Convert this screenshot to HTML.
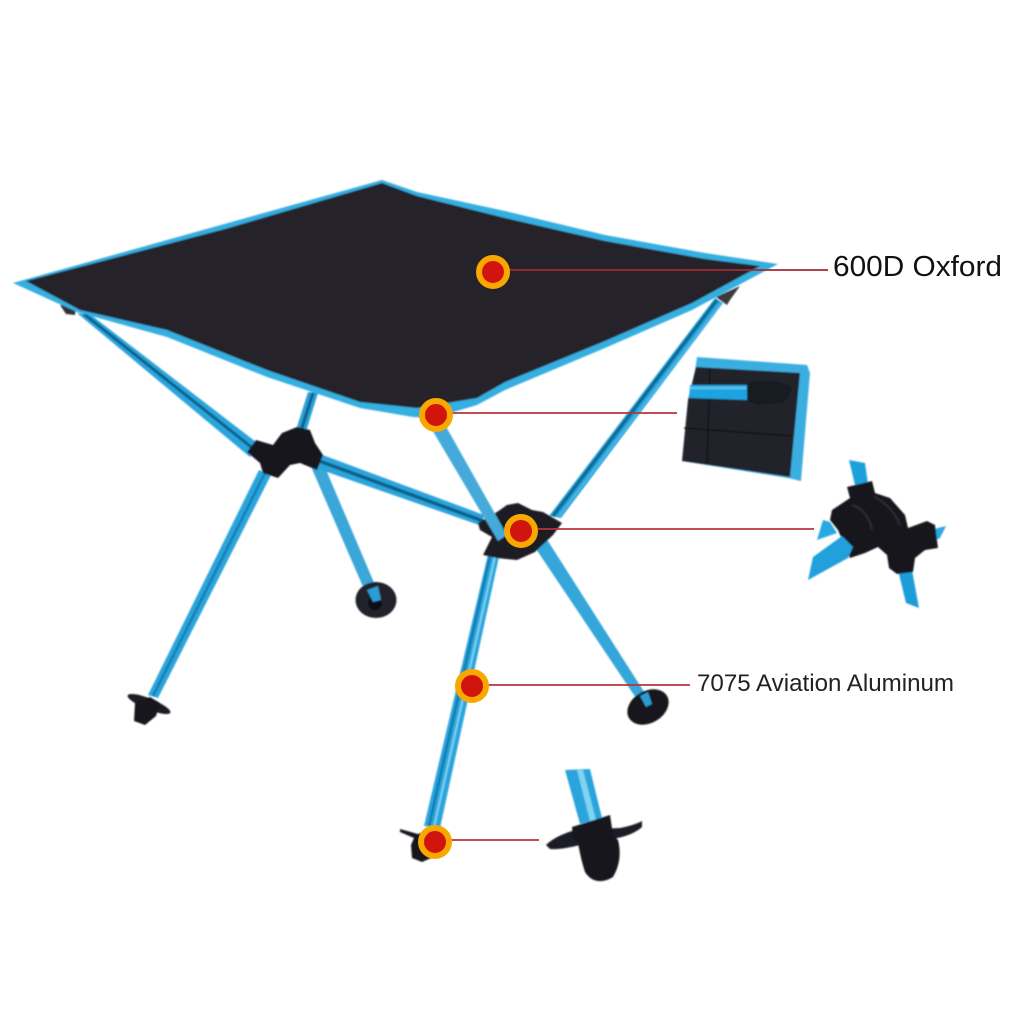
<!DOCTYPE html>
<html><head><meta charset="utf-8"><style>html,body{margin:0;padding:0;background:#fff}svg{display:block}</style></head>
<body>
<svg xmlns="http://www.w3.org/2000/svg" width="1010" height="1010" viewBox="0 0 1010 1010">
<rect width="1010" height="1010" fill="#fff"/>
<defs>
<filter id="b" x="-5%" y="-5%" width="110%" height="110%"><feGaussianBlur stdDeviation="0.7"/></filter>
</defs>
<g filter="url(#b)">
<!-- legs behind the top and hubs -->
<polygon points="77,313 91,315 260,445 250,457" fill="#2ba4dc"/>
<path d="M84 314L255 450" stroke="#0d5f88" stroke-width="3" fill="none"/>
<polygon points="308,392 318,393 305,435 295,433" fill="#2aa0d8"/>
<path d="M313 393L300 434" stroke="#0d5f88" stroke-width="3" fill="none"/>
<polygon points="715,298 723,303 561,518 549,516" fill="#2ba4dc"/>
<path d="M717 300L553 516" stroke="#0f6a96" stroke-width="3.500" fill="none"/>
<path d="M721 303L559 516" stroke="#5cc4ee" stroke-width="1" fill="none"/>
<polygon points="259,470 271,475 158,698 148,695" fill="#2ba4dc"/>
<path d="M265 473L153 696" stroke="#157fb0" stroke-width="2.500" fill="none"/>
<polygon points="309,462 321,458 378,592 367,596" fill="#3aa6d8"/>
<polygon points="312,451 310,466 482,526 484,515" fill="#2ba4dc"/>
<path d="M311 458L483 521" stroke="#0f5f86" stroke-width="3.500" fill="none"/>
<polygon points="530,540 546,538 648,698 640,704" fill="#35a6d9"/>
<polygon points="489,550 500,552 440,828 424,826" fill="#2ba4dc"/>
<path d="M491 552L429 826" stroke="#117cb0" stroke-width="2.500" fill="none"/>
<path d="M496 552L434 827" stroke="#7fd4f2" stroke-width="2" fill="none"/>
<!-- small tips under the top -->
<path d="M60 305L76 306L75 315L66 314Z" fill="#333"/>
<path d="M716 297L740 286L730 300L727 305Z" fill="#3a3a3e"/>
<!-- table top -->
<path d="M13 283L382 180L417 192L505 211L605 235L705 253L778 264L692 310L605 348L505 390L477 405L433 418L413 417L360 408L267 377L167 337L77 312Z" fill="#35aee0"/>
<path d="M26 281L225 229L382 183L417 196L505 218L605 241L705 259L760 266L692 303L605 341L505 382L477 398L417 408L360 402L267 370L167 330L80 310Z" fill="#26242b"/>
<!-- hubs -->
<path d="M247 452L256 440L273 445L282 433L297 427L310 430L315 443L323 455L317 470L300 463L290 465L278 478L263 473L260 463Z" fill="#14161d"/>
<path d="M478 523L497 512L507 505L518 503L532 510L543 512L562 523L553 535L535 552L517 560L497 558L483 555L492 537L480 530Z" fill="#1a1c23"/>
<polygon points="431,428 444,423 507,535 498,541" fill="#45a9da"/>
<!-- feet -->
<ellipse cx="376" cy="600" rx="20.500" ry="18" fill="#20222c"/>
<circle cx="375" cy="603" r="7" fill="#0e1016"/>
<path d="M367 590L378 586L381 600L373 602Z" fill="#2a9dd4"/>
<ellipse cx="648" cy="707" rx="22" ry="16" transform="rotate(-30 648 707)" fill="#12141a"/>
<path d="M640 696L648 692L652 704L646 707Z" fill="#2a9dd4"/>
<ellipse cx="149" cy="704" rx="23" ry="5.500" transform="rotate(22 149 704)" fill="#1b1d24"/>
<path d="M150 697L160 703L156 716L145 725L134 721L135 703Z" fill="#14161d"/>
<path d="M400 829L418 834L430 830L438 855L422 862L412 858L411 845L414 838L400 832Z" fill="#14161d"/>
<!-- inset: corner -->
<path d="M697 357L807 365L810 373L801 481L788 478L682 461Z" fill="#3aaee0"/>
<path d="M696 367L800 373L790 477L682 461L688 400Z" fill="#23232a"/>
<path d="M710 368L707 464M684 428L792 436" stroke="#0f0f14" stroke-width="1.200" fill="none"/>
<path d="M747 383Q772 377 792 387Q790 398 782 403L758 405L747 401Z" fill="#181a22"/>
<path d="M690 385L747 385L747 400L689 398Z" fill="#1fa3e0"/>
<path d="M690 388L746 388" stroke="#5cc4ee" stroke-width="2.500"/>
<!-- inset: connector -->
<polygon points="849,460 865,463 868,484 855,485" fill="#1fa0dc"/>
<polygon points="823,520 830,522 837,533 817,540" fill="#2ba8e0"/>
<polygon points="898,570 912,570 919,608 906,603" fill="#1f9dd8"/>
<polygon points="930,530 946,526 940,538 932,542" fill="#2ba8e0"/>
<path d="M847 487L872 481L875 493L890 498L905 515L908 528L927 521L935 525L938 548L925 550L915 558L913 572L897 574L889 568L887 555L878 547L865 553L850 558L838 530L830 520L832 510L850 498Z" fill="#15171d"/>
<path d="M874 497Q892 505 900 525M852 505Q868 510 872 530" stroke="#2c2e37" stroke-width="2" fill="none"/>
<polygon points="842,536 853,547 848,558 808,580 813,557" fill="#20a0dc"/>
<!-- inset: foot -->
<polygon points="565,770 590,769 602,818 580,824" fill="#2ba4dc"/>
<polygon points="577,770 583,770 596,820 590,821" fill="#7ed4f2"/>
<path d="M546 845Q555 836 575 830L620 828Q635 825 642 821L642 827Q632 836 612 839L580 845Q560 850 550 849Z" fill="#1c1e26"/>
<path d="M572 827L610 815L613 835L618 840Q623 860 613 877Q605 882 598 881Q590 880 585 872Q581 860 578 843L573 838Z" fill="#14161c"/>
</g>
<!-- labels' leader lines -->
<g stroke="#b8343a" stroke-width="1.800">
<path d="M505 270H828" stroke="#a02c32"/>
<path d="M450 413H677"/>
<path d="M535 529H814"/>
<path d="M485 685H690"/>
<path d="M450 840H539"/>
</g>
<!-- markers -->
<g fill="#d2140e" stroke="#f8a800" stroke-width="6">
<circle cx="493" cy="272" r="14"/>
<circle cx="436" cy="415" r="14"/>
<circle cx="521" cy="531" r="14"/>
<circle cx="472" cy="686" r="14"/>
<circle cx="435" cy="842" r="14"/>
</g>
<text x="833" y="276" font-family="'Liberation Sans',sans-serif" font-size="28.500" textLength="169" lengthAdjust="spacingAndGlyphs" fill="#111">600D Oxford</text>
<text x="697" y="691" font-family="'Liberation Sans',sans-serif" font-size="24" textLength="257" lengthAdjust="spacingAndGlyphs" fill="#222">7075 Aviation Aluminum</text>
</svg>
</body></html>
